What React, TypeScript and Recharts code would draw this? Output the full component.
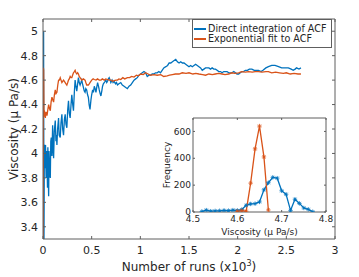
import React from 'react';
import { LineChart, Line, XAxis, YAxis, Legend, CartesianGrid } from 'recharts';

const FONT = '"DejaVu Sans", sans-serif';
const BLUE = '#0072BD';
const ORANGE = '#D95319';
const AXIS = '#5e5e5e';
const TEXT = '#262626';

const runTicks = [0, 0.5, 1, 1.5, 2, 2.5, 3];
const viscTicks = [3.4, 3.6, 3.8, 4, 4.2, 4.4, 4.6, 4.8, 5];
const histXTicks = [4.5, 4.6, 4.7, 4.8];
const histYTicks = [0, 200, 400, 600];
const seriesNames = ['Direct integration of ACF', 'Exponential fit to ACF'];
const seriesColors = [BLUE, ORANGE];

// running viscosity estimate, [runs x10^3, viscosity]
const directIntegration: [number, number][] = [
  [0.002, 3.2], [0.006, 5.0], [0.010, 3.25], [0.014, 4.07], [0.020, 3.88], [0.026, 4.07],
  [0.032, 3.8], [0.036, 4.02], [0.041, 3.96], [0.046, 3.72], [0.050, 4.05], [0.055, 3.78],
  [0.058, 3.65], [0.062, 4.02], [0.068, 3.86], [0.075, 3.8], [0.080, 4.1], [0.085, 4.13],
  [0.092, 3.98], [0.099, 4.23], [0.104, 4.05], [0.109, 3.96], [0.116, 4.18], [0.126, 4.27],
  [0.133, 4.1], [0.138, 4.15], [0.143, 4.07], [0.150, 4.2], [0.160, 4.29], [0.166, 4.15],
  [0.177, 4.13], [0.185, 4.25], [0.194, 4.32], [0.202, 4.2], [0.211, 4.15], [0.220, 4.28],
  [0.228, 4.32], [0.236, 4.24], [0.245, 4.21], [0.254, 4.36], [0.262, 4.43], [0.270, 4.33],
  [0.279, 4.29], [0.288, 4.4], [0.296, 4.48], [0.304, 4.41], [0.313, 4.35], [0.322, 4.5],
  [0.330, 4.6], [0.338, 4.55], [0.347, 4.51], [0.356, 4.57], [0.364, 4.62], [0.372, 4.58],
  [0.381, 4.56], [0.390, 4.58], [0.398, 4.6], [0.406, 4.57], [0.415, 4.54], [0.424, 4.51],
  [0.432, 4.5], [0.440, 4.53], [0.449, 4.52], [0.458, 4.48], [0.466, 4.46], [0.474, 4.4],
  [0.483, 4.36], [0.493, 4.44], [0.500, 4.48], [0.510, 4.52], [0.518, 4.5], [0.527, 4.55],
  [0.535, 4.53], [0.544, 4.5], [0.552, 4.54], [0.561, 4.58], [0.570, 4.55], [0.578, 4.52],
  [0.587, 4.49], [0.595, 4.47], [0.604, 4.51], [0.612, 4.55], [0.620, 4.57], [0.629, 4.58],
  [0.638, 4.59], [0.646, 4.6], [0.655, 4.58], [0.663, 4.59], [0.672, 4.61], [0.680, 4.62],
  [0.690, 4.6], [0.697, 4.58], [0.710, 4.6], [0.720, 4.58], [0.731, 4.59], [0.745, 4.57],
  [0.755, 4.58], [0.765, 4.56], [0.780, 4.57], [0.799, 4.58], [0.815, 4.56], [0.833, 4.55],
  [0.850, 4.54], [0.867, 4.53], [0.884, 4.55], [0.901, 4.56], [0.918, 4.58], [0.935, 4.6],
  [0.952, 4.61], [0.969, 4.62], [0.986, 4.64], [1.003, 4.65], [1.020, 4.66], [1.037, 4.67],
  [1.054, 4.66], [1.071, 4.63], [1.088, 4.64], [1.105, 4.64], [1.122, 4.65], [1.139, 4.65],
  [1.156, 4.66], [1.173, 4.66], [1.190, 4.67], [1.207, 4.66], [1.224, 4.68], [1.241, 4.7],
  [1.262, 4.71], [1.280, 4.72], [1.296, 4.74], [1.313, 4.74], [1.330, 4.75], [1.347, 4.76],
  [1.364, 4.77], [1.381, 4.75], [1.398, 4.74], [1.415, 4.75], [1.432, 4.74], [1.449, 4.74],
  [1.466, 4.73], [1.483, 4.72], [1.500, 4.71], [1.517, 4.72], [1.534, 4.71], [1.551, 4.72],
  [1.568, 4.73], [1.585, 4.72], [1.602, 4.71], [1.619, 4.7], [1.636, 4.68], [1.653, 4.69],
  [1.670, 4.7], [1.687, 4.7], [1.704, 4.7], [1.721, 4.69], [1.738, 4.7], [1.755, 4.69],
  [1.772, 4.69], [1.789, 4.68], [1.806, 4.67], [1.823, 4.67], [1.840, 4.66], [1.857, 4.67],
  [1.874, 4.67], [1.891, 4.67], [1.908, 4.66], [1.925, 4.66], [1.942, 4.66], [1.960, 4.67],
  [1.977, 4.66], [1.993, 4.65], [2.010, 4.65], [2.027, 4.66], [2.044, 4.67], [2.061, 4.67],
  [2.079, 4.68], [2.100, 4.68], [2.120, 4.69], [2.146, 4.69], [2.170, 4.68], [2.190, 4.68],
  [2.214, 4.68], [2.240, 4.67], [2.260, 4.68], [2.290, 4.7], [2.316, 4.71], [2.350, 4.72],
  [2.384, 4.72], [2.420, 4.71], [2.452, 4.7], [2.490, 4.7], [2.520, 4.7], [2.550, 4.69],
  [2.571, 4.68], [2.590, 4.69], [2.605, 4.7], [2.630, 4.69], [2.650, 4.7],
];

const exponentialFit: [number, number][] = [
  [0.001, 3.2], [0.004, 4.7], [0.007, 4.68], [0.010, 4.3], [0.014, 4.35], [0.017, 4.32],
  [0.024, 4.29], [0.030, 4.34], [0.041, 4.31], [0.050, 4.36], [0.058, 4.4], [0.066, 4.37],
  [0.075, 4.35], [0.083, 4.42], [0.092, 4.46], [0.100, 4.44], [0.109, 4.42], [0.117, 4.48],
  [0.126, 4.52], [0.134, 4.49], [0.143, 4.5], [0.152, 4.56], [0.160, 4.6], [0.168, 4.6],
  [0.177, 4.62], [0.185, 4.6], [0.194, 4.58], [0.202, 4.59], [0.211, 4.6], [0.220, 4.59],
  [0.228, 4.58], [0.236, 4.57], [0.245, 4.56], [0.254, 4.58], [0.262, 4.6], [0.270, 4.61],
  [0.279, 4.63], [0.288, 4.62], [0.296, 4.62], [0.304, 4.64], [0.313, 4.66], [0.322, 4.67],
  [0.330, 4.68], [0.338, 4.66], [0.347, 4.65], [0.356, 4.66], [0.364, 4.65], [0.372, 4.63],
  [0.381, 4.62], [0.390, 4.61], [0.398, 4.6], [0.415, 4.61], [0.432, 4.6], [0.440, 4.58],
  [0.449, 4.56], [0.458, 4.56], [0.466, 4.56], [0.475, 4.57], [0.483, 4.58], [0.500, 4.6],
  [0.515, 4.61], [0.527, 4.605], [0.545, 4.6], [0.560, 4.61], [0.578, 4.6], [0.595, 4.6],
  [0.610, 4.61], [0.630, 4.6], [0.645, 4.61], [0.663, 4.605], [0.680, 4.6], [0.700, 4.6],
  [0.715, 4.59], [0.731, 4.595], [0.750, 4.6], [0.765, 4.6], [0.780, 4.61], [0.799, 4.605],
  [0.820, 4.62], [0.840, 4.61], [0.867, 4.62], [0.890, 4.62], [0.910, 4.63], [0.935, 4.625],
  [0.960, 4.64], [0.980, 4.635], [1.003, 4.65], [1.030, 4.645], [1.054, 4.66], [1.080, 4.65],
  [1.105, 4.64], [1.140, 4.645], [1.173, 4.64], [1.210, 4.645], [1.240, 4.63], [1.276, 4.635],
  [1.300, 4.64], [1.330, 4.645], [1.360, 4.65], [1.398, 4.65], [1.430, 4.66], [1.470, 4.655],
  [1.500, 4.66], [1.540, 4.65], [1.570, 4.655], [1.602, 4.65], [1.640, 4.645], [1.670, 4.64],
  [1.704, 4.65], [1.740, 4.645], [1.770, 4.65], [1.806, 4.655], [1.840, 4.65], [1.870, 4.645],
  [1.908, 4.65], [1.940, 4.66], [1.970, 4.655], [2.010, 4.66], [2.040, 4.67], [2.080, 4.665],
  [2.112, 4.67], [2.150, 4.665], [2.180, 4.67], [2.214, 4.67], [2.250, 4.665], [2.290, 4.67],
  [2.316, 4.67], [2.350, 4.66], [2.390, 4.665], [2.430, 4.66], [2.470, 4.655], [2.500, 4.66],
  [2.540, 4.65], [2.580, 4.655], [2.620, 4.65], [2.650, 4.65],
];

// histograms of the viscosity estimates
const directHistBins = [
  4.52, 4.53, 4.54, 4.55, 4.56, 4.57, 4.58, 4.59, 4.6, 4.61, 4.62, 4.63, 4.64,
  4.65, 4.66, 4.67, 4.68, 4.69, 4.7, 4.71, 4.72, 4.73, 4.74, 4.75, 4.76, 4.77,
];
const directHistCounts = [
  4, 14, 6, 8, 9, 12, 10, 14, 12, 18, 50, 60, 62,
  75, 165, 218, 258, 252, 158, 132, 12, 95, 64, 30, 20, 2,
];
const expHistBins = [4.6, 4.61, 4.62, 4.63, 4.64, 4.65, 4.66, 4.67];
const expHistCounts = [5, 10, 6, 215, 470, 640, 410, 15];

const toPoints = (pts: [number, number][]) => pts.map(([x, y]) => ({ x, y }));
const toHist = (bins: number[], counts: number[]) => bins.map((v, i) => ({ v, n: counts[i] }));

const directData = toPoints(directIntegration);
const expData = toPoints(exponentialFit);
const directHist = toHist(directHistBins, directHistCounts);
const expHist = toHist(expHistBins, expHistCounts);

const blank = () => '';

const MatlabLegend = () => (
  <div
    style={{
      width: 140,
      height: 29,
      boxSizing: 'border-box',
      border: `1px solid ${AXIS}`,
      background: '#fff',
      fontFamily: FONT,
      fontSize: 9.6,
      lineHeight: '10px',
      color: TEXT,
      paddingTop: 4,
    }}
  >
    {seriesNames.map((name, i) => (
      <div key={name} style={{ display: 'flex', alignItems: 'center', height: 10, whiteSpace: 'nowrap' }}>
        <div style={{ width: 12, height: 2, background: seriesColors[i], margin: '0 2px 0 1px', flex: 'none' }} />
        <span>{name}</span>
      </div>
    ))}
  </div>
);

const Star = ({ cx, cy, stroke }: any) => {
  if (cx == null || cy == null) return null;
  const r = 2.2;
  const d = r * 0.7;
  return (
    <g stroke={stroke} strokeWidth={0.8}>
      <line x1={cx - r} y1={cy} x2={cx + r} y2={cy} />
      <line x1={cx} y1={cy - r} x2={cx} y2={cy + r} />
      <line x1={cx - d} y1={cy - d} x2={cx + d} y2={cy + d} />
      <line x1={cx - d} y1={cy + d} x2={cx + d} y2={cy - d} />
    </g>
  );
};

const tickStyle = { fill: TEXT, fontSize: 11, fontFamily: FONT };
const insetTickStyle = { fill: TEXT, fontSize: 9, fontFamily: FONT };

const MainChart = () => (
  <LineChart width={359} height={277} margin={{ top: 18, right: 23, bottom: 0, left: 0 }}>
    <XAxis
      xAxisId="bottom"
      type="number"
      dataKey="x"
      domain={[0, 3]}
      ticks={runTicks}
      interval={0}
      allowDataOverflow
      height={38}
      tick={tickStyle}
      tickSize={-3}
      tickMargin={10}
      stroke={AXIS}
      label={{
        content: ({ viewBox }: any) => (
          <text x={viewBox.x + viewBox.width / 2} y={270.5} textAnchor="middle" fontSize={12} fontFamily={FONT} fill={TEXT}>
            <tspan>Number of runs (x10</tspan>
            <tspan dy={-5} fontSize={8}>3</tspan>
            <tspan dy={5}>)</tspan>
          </text>
        ),
      }}
    />
    <XAxis
      xAxisId="top"
      orientation="top"
      type="number"
      dataKey="x"
      domain={[0, 3]}
      ticks={runTicks}
      interval={0}
      allowDataOverflow
      height={1}
      tickFormatter={blank}
      tickSize={-3}
      stroke={AXIS}
    />
    <YAxis
      yAxisId="left"
      type="number"
      dataKey="y"
      domain={[3.3, 5.1]}
      ticks={viscTicks}
      interval={0}
      allowDataOverflow
      width={43}
      tick={tickStyle}
      tickSize={-3}
      tickMargin={8}
      stroke={AXIS}
      label={{
        content: ({ viewBox }: any) => {
          const cx = viewBox.x + 18;
          const cy = viewBox.y + viewBox.height / 2;
          return (
            <text x={cx} y={cy} transform={`rotate(-90 ${cx} ${cy})`} textAnchor="middle" fontSize={12} fontFamily={FONT} fill={TEXT}>
              Viscosity (μ Pa/s)
            </text>
          );
        },
      }}
    />
    <YAxis
      yAxisId="right"
      orientation="right"
      type="number"
      dataKey="y"
      domain={[3.3, 5.1]}
      ticks={viscTicks}
      interval={0}
      allowDataOverflow
      width={1}
      tickFormatter={blank}
      tickSize={-3}
      stroke={AXIS}
    />
    <Line data={directData} xAxisId="top" yAxisId="right" dataKey="y" stroke="none" dot={false} activeDot={false} isAnimationActive={false} legendType="none" />
    <Line
      data={directData}
      xAxisId="bottom"
      yAxisId="left"
      dataKey="y"
      name={seriesNames[0]}
      stroke={BLUE}
      strokeWidth={1.3}
      dot={false}
      activeDot={false}
      isAnimationActive={false}
    />
    <Line
      data={expData}
      xAxisId="bottom"
      yAxisId="left"
      dataKey="y"
      name={seriesNames[1]}
      stroke={ORANGE}
      strokeWidth={1.3}
      dot={false}
      activeDot={false}
      isAnimationActive={false}
    />
    <Legend
      layout="horizontal"
      verticalAlign="middle"
      align="center"
      content={<MatlabLegend />}
      wrapperStyle={{ left: 192, top: 19, width: 140, height: 29 }}
    />
  </LineChart>
);

const InsetChart = () => (
  <LineChart width={190} height={140} margin={{ top: 16, right: 13, bottom: 0, left: 0 }}>
    <CartesianGrid horizontal={false} vertical={false} fill="#fff" xAxisId="bottom" yAxisId="left" />
    <XAxis
      xAxisId="bottom"
      type="number"
      dataKey="v"
      domain={[4.5, 4.8]}
      ticks={histXTicks}
      interval={0}
      allowDataOverflow
      height={29}
      tick={insetTickStyle}
      tickSize={-2}
      tickMargin={6}
      stroke={AXIS}
      label={{
        content: ({ viewBox }: any) => (
          <text x={viewBox.x + viewBox.width / 2} y={133.5} textAnchor="middle" fontSize={9} fontFamily={FONT} fill={TEXT}>
            Viscosity (μ Pa/s)
          </text>
        ),
      }}
    />
    <XAxis
      xAxisId="top"
      orientation="top"
      type="number"
      dataKey="v"
      domain={[4.5, 4.8]}
      ticks={histXTicks}
      interval={0}
      allowDataOverflow
      height={1}
      tickFormatter={blank}
      tickSize={-2}
      stroke={AXIS}
    />
    <YAxis
      yAxisId="left"
      type="number"
      dataKey="n"
      domain={[0, 700]}
      ticks={histYTicks}
      interval={0}
      allowDataOverflow
      width={43}
      tick={insetTickStyle}
      tickSize={-2}
      tickMargin={4}
      stroke={AXIS}
      label={{
        content: ({ viewBox }: any) => {
          const cx = 20;
          const cy = viewBox.y + viewBox.height / 2;
          return (
            <text x={cx} y={cy} transform={`rotate(-90 ${cx} ${cy})`} textAnchor="middle" fontSize={9} fontFamily={FONT} fill={TEXT}>
              Frequency
            </text>
          );
        },
      }}
    />
    <YAxis
      yAxisId="right"
      orientation="right"
      type="number"
      dataKey="n"
      domain={[0, 700]}
      ticks={histYTicks}
      interval={0}
      allowDataOverflow
      width={1}
      tickFormatter={blank}
      tickSize={-2}
      stroke={AXIS}
    />
    <Line data={directHist} xAxisId="top" yAxisId="right" dataKey="n" stroke="none" dot={false} activeDot={false} isAnimationActive={false} />
    <Line
      data={directHist}
      xAxisId="bottom"
      yAxisId="left"
      dataKey="n"
      stroke={BLUE}
      strokeWidth={1.3}
      dot={(p: any) => <Star key={`d${p.index}`} {...p} stroke={BLUE} />}
      activeDot={false}
      isAnimationActive={false}
    />
    <Line
      data={expHist}
      xAxisId="bottom"
      yAxisId="left"
      dataKey="n"
      stroke={ORANGE}
      strokeWidth={1.3}
      dot={(p: any) => <Star key={`e${p.index}`} {...p} stroke={ORANGE} />}
      activeDot={false}
      isAnimationActive={false}
    />
  </LineChart>
);

export default function App() {
  return (
    <div style={{ position: 'absolute', left: 0, top: 0, width: 359, height: 277, background: '#fff' }}>
      <MainChart />
      <div style={{ position: 'absolute', left: 150, top: 101, width: 190, height: 140 }}>
        <InsetChart />
      </div>
    </div>
  );
}
